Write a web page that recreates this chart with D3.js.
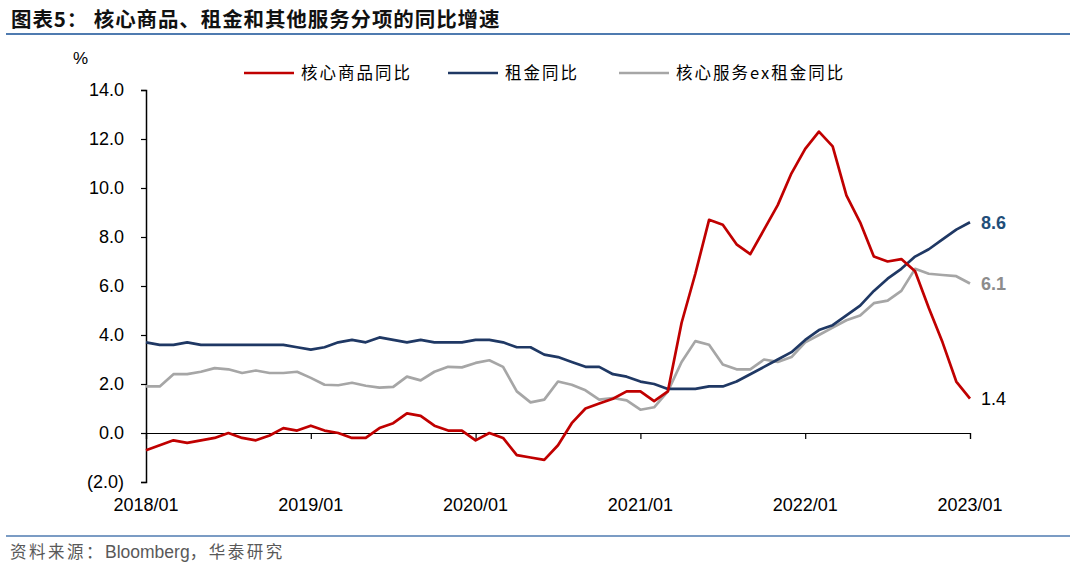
<!DOCTYPE html>
<html>
<head>
<meta charset="utf-8">
<script src="https://cdn.jsdelivr.net/npm/d3@7"></script>
<style>
  body { margin: 0; background: #fff; }
  svg { display: block; }
</style>
</head>
<body>
<div id="chart"></div>
<script>
// monthly data, 2018/01 .. 2023/01
const coreGoods = [-0.7, -0.5, -0.3, -0.4, -0.3, -0.2, 0.0, -0.2, -0.3, -0.1, 0.2, 0.1,
  0.3, 0.1, 0.0, -0.2, -0.2, 0.2, 0.4, 0.8, 0.7, 0.3, 0.1, 0.1,
  -0.3, 0.0, -0.2, -0.9, -1.0, -1.1, -0.5, 0.4, 1.0, 1.2, 1.4, 1.7,
  1.7, 1.3, 1.7, 4.5, 6.5, 8.7, 8.5, 7.7, 7.3, 8.3, 9.3, 10.6,
  11.6, 12.3, 11.7, 9.7, 8.6, 7.2, 7.0, 7.1, 6.6, 5.1, 3.7, 2.1, 1.4];
const rent = [3.7, 3.6, 3.6, 3.7, 3.6, 3.6, 3.6, 3.6, 3.6, 3.6, 3.6, 3.5,
  3.4, 3.5, 3.7, 3.8, 3.7, 3.9, 3.8, 3.7, 3.8, 3.7, 3.7, 3.7,
  3.8, 3.8, 3.7, 3.5, 3.5, 3.2, 3.1, 2.9, 2.7, 2.7, 2.4, 2.3,
  2.1, 2.0, 1.8, 1.8, 1.8, 1.9, 1.9, 2.1, 2.4, 2.7, 3.0, 3.3,
  3.8, 4.2, 4.4, 4.8, 5.2, 5.8, 6.3, 6.7, 7.2, 7.5, 7.9, 8.3, 8.6];
const servicesExRent = [1.9, 1.9, 2.4, 2.4, 2.5, 2.65, 2.6, 2.45, 2.55, 2.45, 2.45, 2.5,
  2.25, 1.97, 1.95, 2.05, 1.93, 1.85, 1.88, 2.3, 2.15, 2.5, 2.7, 2.68,
  2.86, 2.97, 2.7, 1.7, 1.25, 1.36, 2.1, 1.97, 1.74, 1.36, 1.43, 1.33,
  0.95, 1.05, 1.7, 2.9, 3.75, 3.6, 2.8, 2.6, 2.6, 3.0, 2.9, 3.1,
  3.7, 4.0, 4.3, 4.6, 4.8, 5.3, 5.4, 5.8, 6.7, 6.5, 6.45, 6.4, 6.1];
const xTickLabels = ["2018/01", "2019/01", "2020/01", "2021/01", "2022/01", "2023/01"];
const yTicks = [-2, 0, 2, 4, 6, 8, 10, 12, 14];
const seriesNames = ["核心商品同比", "租金同比", "核心服务ex租金同比"];

const W = 1080, H = 575;
const svg = d3.select("#chart").append("svg")
  .attr("width", W)
  .attr("height", H);

const x = d3.scaleLinear().domain([0, coreGoods.length - 1]).range([146, 970]);
const y = d3.scaleLinear().domain([-2, 14]).range([482, 90]);

const numFont = "Liberation Sans, Arial, sans-serif";
const cjkFont = "Noto Sans CJK SC, sans-serif";

// header
svg.append("text")
  .attr("x", 11).attr("y", 27)
  .attr("font-family", cjkFont)
  .attr("font-weight", "bold")
  .attr("font-size", 20.5)
  .attr("letter-spacing", 0.9)
  .attr("fill", "#111")
  .text("图表5：  核心商品、租金和其他服务分项的同比增速");
svg.append("line")
  .attr("x1", 6).attr("x2", 1070)
  .attr("y1", 34).attr("y2", 34)
  .attr("stroke", "#4f7bb0").attr("stroke-width", 2);

// footer
svg.append("line")
  .attr("x1", 6).attr("x2", 1070)
  .attr("y1", 536).attr("y2", 536)
  .attr("stroke", "#4f7bb0").attr("stroke-width", 1.5);
const src = svg.append("text")
  .attr("x", 10).attr("y", 558)
  .attr("font-size", 16.5)
  .attr("fill", "#595959");
src.append("tspan").attr("font-family", cjkFont).attr("letter-spacing", 2.5).text("资料来源：");
src.append("tspan").attr("font-family", numFont).attr("font-size", 17.5).text("Bloomberg");
src.append("tspan").attr("font-family", cjkFont).attr("letter-spacing", 2.5).text("，华泰研究");

// unit
svg.append("text")
  .attr("x", 73).attr("y", 64)
  .attr("font-family", numFont)
  .attr("font-size", 17)
  .attr("fill", "#000")
  .text("%");

// y axis
const yAxis = d3.axisLeft(y)
  .tickValues(yTicks)
  .tickSize(5)
  .tickPadding(17)
  .tickFormat(d => d < 0 ? "(" + Math.abs(d).toFixed(1) + ")" : d.toFixed(1));
const gy = svg.append("g")
  .attr("transform", "translate(146,0)")
  .call(yAxis);
gy.select(".domain").attr("stroke", "#000").attr("stroke-width", 1.5);
gy.selectAll(".tick line").attr("stroke", "#000").attr("stroke-width", 1.2);
gy.selectAll("text")
  .attr("font-family", numFont)
  .attr("font-size", 18)
  .attr("fill", "#000");

// x axis on the zero line
const xAxis = d3.axisBottom(x)
  .tickValues(d3.range(0, coreGoods.length, 12))
  .tickSize(6)
  .tickFormat("");
const gx = svg.append("g")
  .attr("transform", `translate(0,${y(0)})`)
  .call(xAxis);
gx.select(".domain").attr("stroke", "#000").attr("stroke-width", 1.2);
gx.selectAll(".tick line").attr("stroke", "#000").attr("stroke-width", 1.2);

svg.selectAll(".xlabel")
  .data(xTickLabels)
  .enter()
  .append("text")
  .attr("class", "xlabel")
  .attr("x", (d, i) => x(i * 12))
  .attr("y", 511)
  .attr("text-anchor", "middle")
  .attr("font-family", numFont)
  .attr("font-size", 18)
  .attr("fill", "#000")
  .text(d => d);

// lines
const series = [
  { name: seriesNames[0], values: coreGoods, color: "#c00000" },
  { name: seriesNames[1], values: rent, color: "#1f3864" },
  { name: seriesNames[2], values: servicesExRent, color: "#a6a6a6" }
];
const line = d3.line()
  .x((d, i) => x(i))
  .y(d => y(d));

// gray first, then navy, red on top
[2, 1, 0].forEach(k => {
  svg.append("path")
    .datum(series[k].values)
    .attr("fill", "none")
    .attr("stroke", series[k].color)
    .attr("stroke-width", 2.7)
    .attr("stroke-linejoin", "round")
    .attr("d", line);
});

// end labels
const endLabels = [
  { v: rent, color: "#1f4e79", bold: true },
  { v: servicesExRent, color: "#8c8c8c", bold: true },
  { v: coreGoods, color: "#000", bold: false }
];
endLabels.forEach(e => {
  const last = e.v[e.v.length - 1];
  svg.append("text")
    .attr("x", x(e.v.length - 1) + 11)
    .attr("y", y(last) + 6.5)
    .attr("font-family", numFont)
    .attr("font-size", 18)
    .attr("font-weight", e.bold ? "bold" : "normal")
    .attr("fill", e.color)
    .text(last.toFixed(1));
});

// legend
const legendX = [244, 448, 619];
const legend = svg.selectAll(".legend")
  .data(series)
  .enter()
  .append("g")
  .attr("class", "legend")
  .attr("transform", (d, i) => `translate(${legendX[i]},73)`);
legend.append("line")
  .attr("x1", 0).attr("x2", 50)
  .attr("y1", 0).attr("y2", 0)
  .attr("stroke", d => d.color)
  .attr("stroke-width", 2.7);
legend.append("text")
  .attr("x", 57)
  .attr("y", 6)
  .attr("font-family", cjkFont)
  .attr("font-size", 16.5)
  .attr("letter-spacing", 2)
  .attr("fill", "#000")
  .text(d => d.name);
</script>
</body>
</html>
